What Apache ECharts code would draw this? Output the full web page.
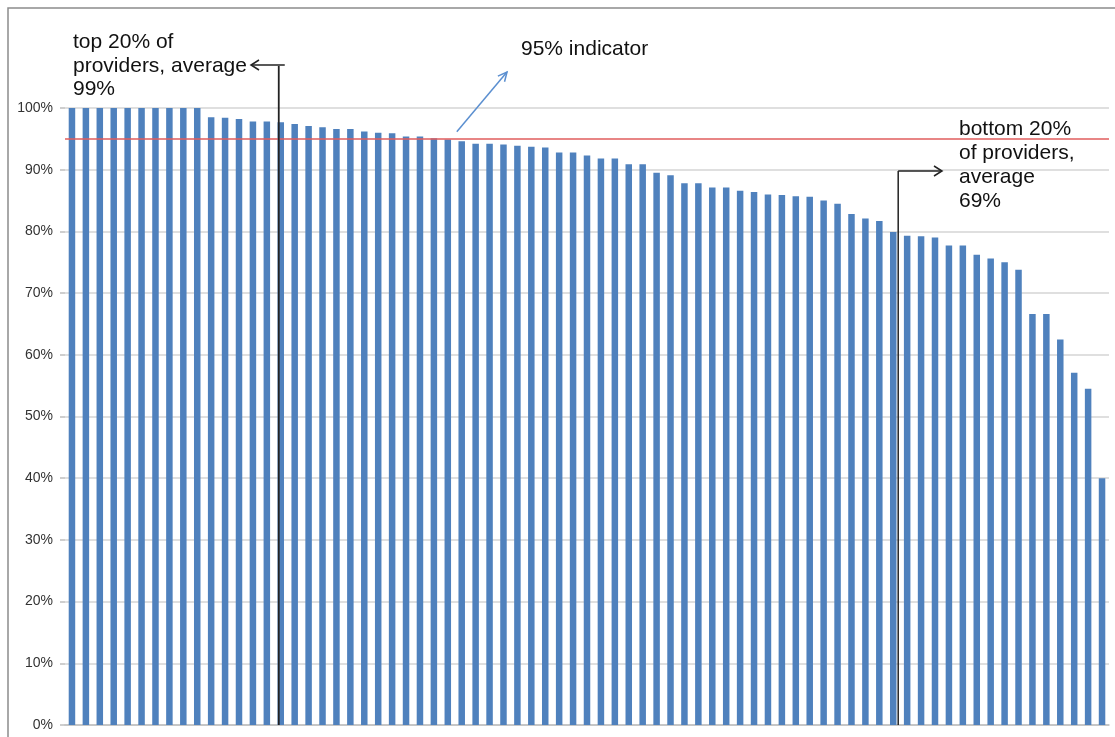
<!DOCTYPE html>
<html>
<head>
<meta charset="utf-8">
<script src="https://cdn.jsdelivr.net/npm/echarts@6/dist/echarts.min.js"></script>
<style>
html,body{margin:0;padding:0;background:#fff;}
#chart{width:1115px;height:737px;}
</style>
</head>
<body>
<div id="chart"></div>
<script>
// ---- data ----
const categories = Array.from({length: 75}, (_, i) => 'Provider ' + (i + 1));
const values = [
  100, 100, 100, 100, 100, 100, 100, 100, 100, 100,
  98.5, 98.4, 98.2, 97.8, 97.8, 97.7, 97.4, 97.1, 96.9, 96.6, 96.6,
  96.2, 96.0, 95.9, 95.4, 95.4, 95.1, 94.9, 94.6, 94.2, 94.2, 94.1, 93.9, 93.7, 93.6,
  92.8, 92.8, 92.3, 91.8, 91.8, 90.9, 90.9, 89.5, 89.1, 87.8, 87.8, 87.1, 87.1, 86.6,
  86.4, 86.0, 85.9, 85.7, 85.6, 85.0, 84.5, 82.8, 82.1, 81.7, 79.9,
  79.3, 79.2, 79.0, 77.7, 77.7, 76.2, 75.6, 75.0, 73.8, 66.6, 66.6, 62.5, 57.1, 54.5, 40.0
];
const yTicks = [0, 10, 20, 30, 40, 50, 60, 70, 80, 90, 100];
const indicatorLevel = 95;
const topGroupSize = 15;     // top 20% of 75 providers
const bottomGroupSize = 15;  // bottom 20%
const topLabel = 'top 20% of\nproviders, average\n99%';
const bottomLabel = 'bottom 20%\nof providers,\naverage\n69%';
const indicatorLabel = '95% indicator';

// ---- chart ----
const FONT = '"Liberation Sans", Arial, sans-serif';
const chart = echarts.init(document.getElementById('chart'));
chart.setOption({
  animation: false,
  backgroundColor: '#ffffff',
  grid: {left: 65, right: 6, top: 108, bottom: 12, containLabel: false},
  xAxis: {
    type: 'category',
    data: categories,
    axisLine: {show: true, lineStyle: {color: '#bfbfbf', width: 1.5}},
    axisTick: {show: false},
    axisLabel: {show: false},
    splitLine: {show: false}
  },
  yAxis: {
    type: 'value',
    min: yTicks[0],
    max: yTicks[yTicks.length - 1],
    interval: yTicks[1] - yTicks[0],
    axisLine: {show: false},
    axisTick: {show: true, length: 5, lineStyle: {color: '#bfbfbf', width: 1.5}},
    axisLabel: {formatter: '{value}%', color: '#333333', fontFamily: FONT, fontSize: 14, margin: 12},
    splitLine: {lineStyle: {color: '#d4d4d4', width: 1.5}}
  },
  series: [{
    type: 'bar',
    data: values,
    barWidth: 6.5,
    itemStyle: {color: '#4f81bd'},
    markLine: {
      silent: true,
      symbol: 'none',
      label: {show: false},
      lineStyle: {color: '#e05c5c', width: 1.5, type: 'solid'},
      data: [{yAxis: indicatorLevel}]
    }
  }]
});

// ---- annotations positioned via the axes ----
const px = (i, v) => chart.convertToPixel({seriesIndex: 0}, [i, v]);
const topX = px(topGroupSize, 0)[0] - 2;
const b1 = px(values.length - bottomGroupSize - 1, 0)[0];
const b2 = px(values.length - bottomGroupSize, 0)[0];
const botX = (b1 + b2) / 2 - 2;
const baseY = px(0, 0)[1];
const ind = px(27, indicatorLevel);

function arrowHead(x, y, dir) {
  const s = dir === 'left' ? 1 : -1;
  return {type: 'polyline', shape: {points: [[x + s * 8, y - 5], [x, y], [x + s * 8, y + 5]]},
    style: {stroke: '#222', lineWidth: 1.5, fill: null}};
}

const blueStart = [ind[0] + 9, ind[1] - 7];
const blueEnd = [507, 72];
const ang = Math.atan2(blueEnd[1] - blueStart[1], blueEnd[0] - blueStart[0]);
const hl = 10;
const ah1 = [blueEnd[0] - hl * Math.cos(ang - 0.45), blueEnd[1] - hl * Math.sin(ang - 0.45)];
const ah2 = [blueEnd[0] - hl * Math.cos(ang + 0.45), blueEnd[1] - hl * Math.sin(ang + 0.45)];

chart.setOption({
  graphic: [
    {type: 'rect', shape: {x: 8, y: 8, width: 1130, height: 760}, style: {stroke: '#8c8c8c', lineWidth: 1.5, fill: null}, z: 100},
    // top 20%
    {type: 'line', shape: {x1: topX, y1: 66, x2: topX, y2: baseY}, style: {stroke: '#222', lineWidth: 1.8}, z: 100},
    {type: 'line', shape: {x1: topX + 6, y1: 65, x2: 251, y2: 65}, style: {stroke: '#222', lineWidth: 1.5}, z: 100},
    Object.assign(arrowHead(251, 65, 'left'), {z: 100}),
    {type: 'text', x: 73, y: 31, style: {text: topLabel, fontFamily: FONT, fontSize: 21, lineHeight: 23.3, fill: '#111', verticalAlign: 'top'}, z: 100},
    // bottom 20%
    {type: 'line', shape: {x1: botX, y1: 171, x2: botX, y2: baseY}, style: {stroke: '#222', lineWidth: 1.5}, z: 100},
    {type: 'line', shape: {x1: botX, y1: 171, x2: 942, y2: 171}, style: {stroke: '#222', lineWidth: 1.5}, z: 100},
    Object.assign(arrowHead(942, 171, 'right'), {z: 100}),
    {type: 'text', x: 959, y: 117, style: {text: bottomLabel, fontFamily: FONT, fontSize: 21, lineHeight: 24, fill: '#111', verticalAlign: 'top'}, z: 100},
    // 95% indicator
    {type: 'line', shape: {x1: blueStart[0], y1: blueStart[1], x2: blueEnd[0], y2: blueEnd[1]}, style: {stroke: '#5b8fd0', lineWidth: 1.5}, z: 100},
    {type: 'polyline', shape: {points: [ah1, blueEnd, ah2]}, style: {stroke: '#5b8fd0', lineWidth: 1.5, fill: null}, z: 100},
    {type: 'text', x: 521, y: 39, style: {text: indicatorLabel, fontFamily: FONT, fontSize: 21, fill: '#111', verticalAlign: 'top'}, z: 100}
  ]
});
</script>
</body>
</html>
